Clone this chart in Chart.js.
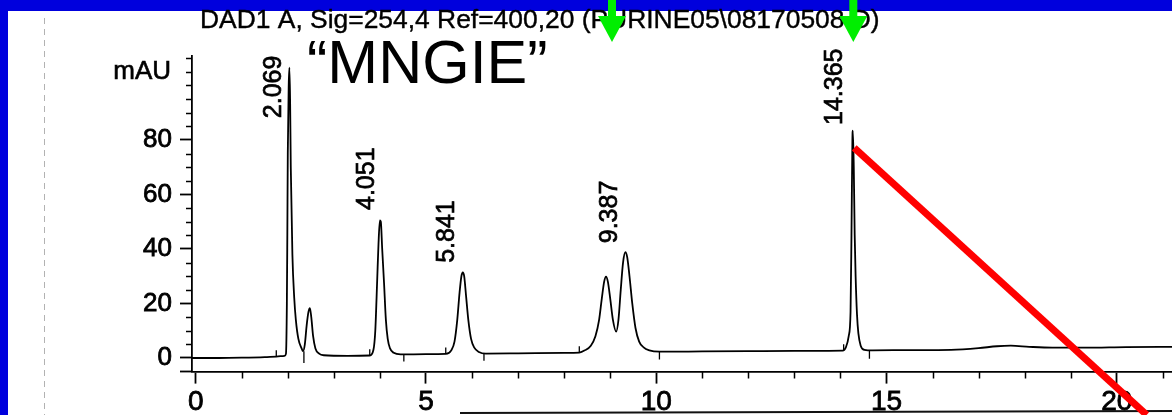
<!DOCTYPE html>
<html>
<head>
<meta charset="utf-8">
<script src="https://cdn.jsdelivr.net/npm/chart.js@4/dist/chart.umd.min.js"></script>
<style>
  html, body { margin: 0; padding: 0; background: #ffffff; }
  canvas { display: block; }
</style>
</head>
<body>
<canvas id="c" width="1172" height="415"></canvas>
<script>
// ---- data ----
const times = [
  -0.08, 0.5, 1.0, 1.5, 1.75, 1.93, 1.96, 1.98, 1.99, 2.00, 2.02, 2.035, 2.05, 2.065, 2.10, 2.14, 2.175, 2.23, 2.30, 2.33,
  2.37, 2.41, 2.45, 2.48, 2.51, 2.55, 2.60, 2.68, 2.78, 3.3, 3.78, 3.86, 3.90, 3.94, 3.97, 4.00, 4.02, 4.05, 4.09, 4.13,
  4.17, 4.22, 4.30, 4.45, 5.0, 5.43, 5.55, 5.62, 5.68, 5.73, 5.77, 5.80, 5.83, 5.87, 5.92, 5.98, 6.05, 6.15, 6.3, 7.0,
  8.0, 8.33, 8.45, 8.58, 8.68, 8.76, 8.82, 8.87, 8.91, 8.95, 9.00, 9.06, 9.13, 9.18, 9.23, 9.28, 9.33, 9.37, 9.42, 9.48,
  9.55, 9.63, 9.72, 9.85, 10.07, 11.0, 12.0, 13.0, 14.05, 14.12, 14.18, 14.22, 14.24, 14.26, 14.27, 14.29, 14.31, 14.33, 14.36, 14.39,
  14.44, 14.52, 14.7, 15.5, 16.4, 17.0, 17.4, 17.7, 18.1, 18.6, 19.3, 20.2, 21.2
];
const signal = [
  0, 0, 0.1, 0.3, 0.5, 0.8, 1.5, 20, 45, 75, 100, 106.5, 95, 70, 38, 22, 14, 7, 3.5, 2.5,
  5, 12, 17, 18.3, 15, 8, 3.5, 1.6, 1.0, 0.8, 0.9, 3, 10, 28, 42, 50.5, 50, 40, 27.5, 14,
  7, 3.5, 1.9, 1.3, 1.4, 1.5, 2.8, 6, 14, 24, 30, 31.4, 30, 23, 14, 7, 3.8, 2.2, 1.6, 1.7,
  1.9, 2.0, 2.8, 4.5, 8, 14, 22, 28, 29.8, 28, 22, 14, 9.7, 14, 25, 35, 38.8, 37, 30, 20,
  11, 6, 4, 2.8, 2.3, 2.4, 2.5, 2.6, 2.7, 4, 8, 17, 45, 80, 83.4, 70, 45, 30, 16, 9,
  4.5, 3, 2.8, 2.9, 3.0, 3.6, 4.3, 4.5, 4.1, 3.8, 3.8, 4.0, 4.1
];
// integration markers: time, from, to (mAU)
const markTimes = [1.75, 3.78, 5.43, 8.33, 14.07, 2.35, 4.52, 6.26, 10.07, 14.63];
const markFrom  = [0.5, 0.9, 1.5, 2.0, 2.7, 2.5, 1.3, 1.6, 2.3, 2.8];
const markTo    = [2.8, 3.2, 3.8, 4.3, 5.0, -1.8, -1.3, -1.0, -0.6, -0.3];

const peakLabels = ['2.069', '4.051', '5.841', '9.387', '14.365'];
const peakLabelTimes = [1.70, 3.72, 5.45, 9.00, 13.89];
const peakLabelLevels = [88, 54.3, 34.9, 42.1, 85.5];

const yLabelValues = [0, 20, 40, 60, 80];
const xLabelStep = 5;

const titleText = 'DAD1 A, Sig=254,4 Ref=400,20 (PURINE05\\08170508.D)';
const sampleText = '\u201CMNGIE\u201D';
const yUnit = 'mAU';

const arrowTimes = [9.04, 14.28];
const redLineTimes = [14.30, 20.65];
const redLineLevels = [77.1, -20.9];

// ---- build ----
const FONT = '"Liberation Sans", Arial, Helvetica, sans-serif';
const trace = times.map((t, i) => ({ x: t, y: signal[i] }));
const marks = [];
markTimes.forEach((t, i) => {
  marks.push({ x: t, y: markFrom[i] }, { x: t, y: markTo[i] }, { x: t, y: null });
});
const redLine = redLineTimes.map((t, i) => ({ x: t, y: redLineLevels[i] }));

function scanText(ctx, s, x, y, sw) {
  ctx.lineWidth = sw;
  ctx.strokeStyle = '#000';
  ctx.strokeText(s, x, y);
  ctx.fillText(s, x, y);
}

const decor = {
  id: 'decor',
  beforeDraw(chart) {
    const ctx = chart.ctx;
    ctx.save();
    ctx.fillStyle = '#ffffff';
    ctx.fillRect(0, 0, chart.width, chart.height);
    // faint scan line on the left
    ctx.strokeStyle = 'rgba(0,0,0,0.3)';
    ctx.lineWidth = 1;
    ctx.setLineDash([6, 5]);
    ctx.beginPath();
    ctx.moveTo(44.5, 18); ctx.lineTo(44.5, 415);
    ctx.stroke();
    ctx.setLineDash([]);
    // slide background bands
    ctx.fillStyle = '#0000dd';
    ctx.fillRect(0, 0, chart.width, 11);
    ctx.fillRect(0, 0, 8, chart.height);
    // paper edge at bottom
    ctx.strokeStyle = '#111';
    ctx.lineWidth = 2;
    ctx.beginPath();
    ctx.moveTo(460, 413); ctx.lineTo(chart.width, 411);
    ctx.stroke();
    ctx.restore();
  },
  afterDraw(chart) {
    const ctx = chart.ctx;
    const xs = chart.scales.x, ys = chart.scales.y;
    const area = chart.chartArea;
    ctx.save();
    // minor ticks
    ctx.strokeStyle = '#000';
    ctx.lineWidth = 1.5;
    ctx.beginPath();
    xs.ticks.forEach(t => {
      if (t.value % xLabelStep !== 0) {
        const px = Math.round(xs.getPixelForValue(t.value)) + 0.5;
        ctx.moveTo(px, area.bottom); ctx.lineTo(px, area.bottom + 7);
      }
    });
    ys.ticks.forEach(t => {
      if (!yLabelValues.includes(t.value) && t.value !== ys.min) {
        const py = Math.round(ys.getPixelForValue(t.value)) + 0.5;
        ctx.moveTo(area.left - 6, py); ctx.lineTo(area.left, py);
      }
    });
    ctx.stroke();

    ctx.fillStyle = '#000';
    // unit label
    ctx.font = '26px ' + FONT;
    ctx.textAlign = 'right';
    ctx.textBaseline = 'middle';
    scanText(ctx, yUnit, 171, 72, 0.6);

    // title fitted to its width
    ctx.textAlign = 'left';
    ctx.textBaseline = 'alphabetic';
    ctx.font = '22px ' + FONT;
    const w = ctx.measureText(titleText).width;
    const fs = 22 * 680 / w;
    ctx.font = fs.toFixed(2) + 'px ' + FONT;
    scanText(ctx, titleText, 200, 28, 0.4);

    // sample name
    ctx.font = '61px ' + FONT;
    ctx.fillText(sampleText, 307, 83);

    // peak labels (rotated)
    ctx.font = '25px ' + FONT;
    ctx.textAlign = 'left';
    ctx.textBaseline = 'middle';
    peakLabels.forEach((s, i) => {
      const px = xs.getPixelForValue(peakLabelTimes[i]);
      const py = ys.getPixelForValue(peakLabelLevels[i]);
      ctx.save();
      ctx.translate(px, py);
      ctx.rotate(-Math.PI / 2);
      scanText(ctx, s, 0, 0, 0.7);
      ctx.restore();
    });

    // green arrows
    ctx.fillStyle = '#00ee00';
    arrowTimes.forEach(t => {
      const cx = xs.getPixelForValue(t);
      ctx.fillRect(cx - 4, 0, 8, 17);
      ctx.beginPath();
      ctx.moveTo(cx - 14, 16);
      ctx.lineTo(cx + 14, 16);
      ctx.lineTo(cx, 42);
      ctx.closePath();
      ctx.fill();
    });
    ctx.restore();
  }
};

new Chart(document.getElementById('c'), {
  type: 'line',
  data: {
    datasets: [
      {
        data: redLine, borderColor: '#ff0000', borderWidth: 7, pointRadius: 0,
        clip: false, order: 0, borderCapStyle: 'butt', tension: 0
      },
      {
        data: trace, borderColor: '#000', borderWidth: 1.8, pointRadius: 0,
        cubicInterpolationMode: 'monotone', order: 1
      },
      {
        data: marks, borderColor: '#000', borderWidth: 1.3, pointRadius: 0,
        spanGaps: false, tension: 0, order: 2, clip: false
      }
    ]
  },
  options: {
    responsive: false,
    animation: false,
    devicePixelRatio: 1,
    events: [],
    layout: { padding: { top: 55.5, left: 0, right: 0, bottom: 0 } },
    plugins: { legend: { display: false }, tooltip: { enabled: false }, title: { display: false } },
    scales: {
      x: {
        type: 'linear', min: -0.08, max: 21.2,
        afterFit: s => { s.height = 43.4; },
        border: { display: true, color: '#000', width: 1.8 },
        grid: {
          drawOnChartArea: false, drawTicks: true, tickLength: 12, tickWidth: 1.8,
          tickColor: c => (c.tick && c.tick.value % xLabelStep === 0) ? '#000' : 'rgba(0,0,0,0)'
        },
        ticks: {
          stepSize: 1, includeBounds: false, autoSkip: false, maxRotation: 0, minRotation: 0,
          maxTicksLimit: 100, padding: 2, color: '#000',
          textStrokeColor: '#000', textStrokeWidth: 0.8,
          font: { family: FONT, size: 28 },
          callback: v => (v % xLabelStep === 0 ? String(v) : '')
        }
      },
      y: {
        type: 'linear', min: -5, max: 111,
        afterFit: s => { s.width = 192; },
        border: { display: true, color: '#000', width: 1.8 },
        grid: {
          drawOnChartArea: false, drawTicks: true, tickLength: 12, tickWidth: 1.8,
          tickColor: c => (c.tick && (yLabelValues.includes(c.tick.value) || c.tick.value === -5)) ? '#000' : 'rgba(0,0,0,0)'
        },
        ticks: {
          stepSize: 5, includeBounds: false, autoSkip: false, maxTicksLimit: 100,
          padding: 8, color: '#000',
          textStrokeColor: '#000', textStrokeWidth: 0.8,
          font: { family: FONT, size: 26 },
          callback: v => (yLabelValues.includes(v) ? String(v) : '')
        }
      }
    }
  },
  plugins: [decor]
});
</script>
</body>
</html>
